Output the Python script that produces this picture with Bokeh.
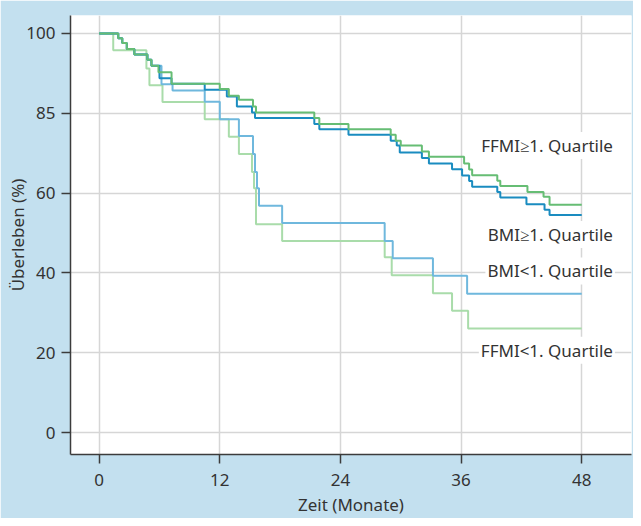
from bokeh.plotting import figure
from bokeh.models import Label, FixedTicker, Range1d
from bokeh.embed import file_html
from bokeh.resources import INLINE

# ---- data ----
x_ticks = [0, 12, 24, 36, 48]
y_ticks = [0, 20, 40, 60, 80, 100]
y_tick_labels = ["0", "20", "40", "60", "85", "100"]

series_names = ["FFMI<1. Quartile", "BMI<1. Quartile", "BMI\u22651. Quartile", "FFMI\u22651. Quartile"]

ffmi_low_t = [0, 1.4, 4.7, 5.0, 6.3, 10.5, 12.9, 13.9, 15.2, 15.4, 15.6, 18.2, 28.4, 29.1, 33.2, 35.1, 36.7, 48]
ffmi_low_s = [100, 95.8, 91.2, 87.0, 82.8, 78.5, 74.1, 69.8, 65.3, 61.2, 52.2, 48.0, 43.9, 39.4, 34.9, 30.5, 26.1, 26.1]

bmi_low_t = [0, 1.9, 2.3, 2.75, 3.5, 4.8, 5.2, 6.2, 7.3, 10.5, 12.0, 13.9, 15.3, 15.5, 15.7, 15.9, 18.2, 28.4, 29.2, 33.2, 36.6, 48]
bmi_low_s = [100, 98.8, 97.6, 96.1, 94.7, 93.4, 91.9, 87.3, 85.7, 82.9, 78.5, 74.3, 69.8, 65.3, 61.2, 56.8, 52.5, 48.0, 43.7, 39.3, 34.8, 34.8]

bmi_high_t = [0, 1.9, 2.3, 2.75, 3.5, 4.8, 5.2, 6.0, 7.2, 10.5, 12.7, 13.7, 15.2, 15.5, 21.4, 21.9, 24.8, 29.0, 29.6, 29.9, 32.1, 32.8, 35.1, 36.1, 36.8, 37.1, 39.6, 39.9, 42.5, 44.3, 44.8, 48]
bmi_high_s = [100, 98.8, 97.6, 96.1, 94.7, 93.4, 91.9, 88.8, 87.4, 85.9, 84.2, 81.7, 80.2, 78.8, 77.3, 76.0, 74.6, 73.1, 71.9, 70.2, 68.8, 67.4, 66.0, 64.4, 63.0, 61.6, 60.3, 58.9, 57.2, 55.8, 54.5, 54.5]

ffmi_high_t = [0, 1.9, 2.3, 2.75, 3.5, 4.8, 5.2, 5.9, 7.2, 12.0, 12.9, 13.9, 15.3, 15.6, 21.4, 21.9, 24.8, 29.0, 29.5, 30.0, 32.1, 32.8, 36.3, 36.8, 37.1, 39.6, 39.9, 42.6, 44.2, 44.8, 48]
ffmi_high_s = [100, 98.8, 97.6, 96.1, 94.7, 93.4, 91.9, 90.3, 87.4, 86.1, 84.4, 83.4, 81.7, 80.2, 78.8, 77.3, 76.0, 74.6, 73.1, 71.9, 70.4, 69.1, 67.4, 65.9, 64.5, 63.1, 61.8, 60.3, 59.1, 57.1, 57.1]

x_label = "Zeit (Monate)"
y_label = "\u00dcberleben (%)"

# ---- figure ----
FONT = "Noto Sans"
FS = "17px"
TXT = "#333333"
BG = "#c3e0ef"

p = figure(width=633, height=518, output_backend="svg", toolbar_location=None,
           x_range=Range1d(-2.85, 52.95), y_range=Range1d(-5.5, 104.5))
p.min_border_left = 70
p.min_border_right = 2
p.min_border_top = 15
p.min_border_bottom = 64
p.border_fill_color = BG
p.background_fill_color = "white"
p.outline_line_color = None

p.xaxis.ticker = FixedTicker(ticks=x_ticks)
p.yaxis.ticker = FixedTicker(ticks=y_ticks)
p.yaxis.major_label_overrides = {t: l for t, l in zip(y_ticks, y_tick_labels)}

for ax in (p.xaxis[0], p.yaxis[0]):
    ax.axis_line_color = "#3c3c3c"
    ax.axis_line_width = 1.5
    ax.major_tick_line_color = "#3c3c3c"
    ax.major_tick_line_width = 1.5
    ax.major_tick_out = 9
    ax.major_tick_in = 0
    ax.minor_tick_line_color = None
    ax.major_label_text_font = FONT
    ax.major_label_text_font_size = FS
    ax.major_label_text_color = TXT
    ax.axis_label_text_font = FONT
    ax.axis_label_text_font_size = FS
    ax.axis_label_text_font_style = "normal"
    ax.axis_label_text_color = TXT

p.xaxis.axis_label = x_label
p.yaxis.axis_label = y_label
p.xaxis.major_label_standoff = 10
p.xaxis.axis_label_standoff = 4
p.yaxis.major_label_standoff = 6
p.yaxis.axis_label_standoff = -6

p.xgrid.ticker = FixedTicker(ticks=x_ticks)
p.ygrid.ticker = FixedTicker(ticks=y_ticks)
p.grid.grid_line_color = "#d6d6d6"
p.grid.grid_line_width = 1.5

colors = ["#a9dcaa", "#6fb8dd", "#1a8cc0", "#66bd74"]
data = [(ffmi_low_t, ffmi_low_s), (bmi_low_t, bmi_low_s),
        (bmi_high_t, bmi_high_s), (ffmi_high_t, ffmi_high_s)]
for (t, s), c in zip(data, colors):
    p.step(t, s, mode="after", line_color=c, line_width=2)

# curve labels (white boxes hide the grid behind them)
label_pos = {
    "FFMI\u22651. Quartile": 71.9,
    "BMI\u22651. Quartile": 49.6,
    "BMI<1. Quartile": 40.5,
    "FFMI<1. Quartile": 20.6,
}
for name in series_names:
    p.add_layout(Label(x=51.3, y=label_pos[name], text=name,
                       text_align="right", text_baseline="middle",
                       text_font=FONT, text_font_size=FS, text_color=TXT,
                       background_fill_color="white", padding=2))

open("out.html", "w").write(file_html(p, INLINE))
